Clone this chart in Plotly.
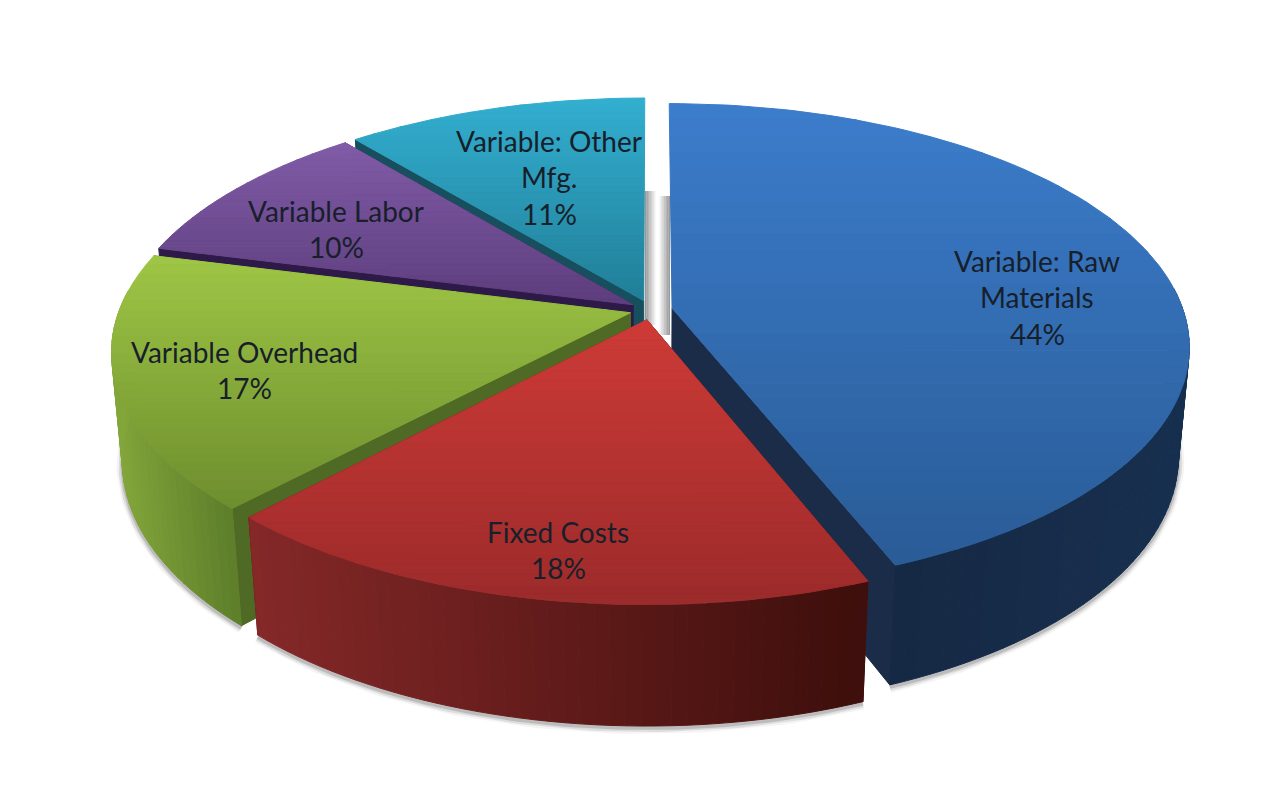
import numpy as np
import plotly.graph_objects as go

# datos del pie
categorias = ['Variable: Raw Materials', 'Fixed Costs', 'Variable Overhead', 'Variable Labor', 'Variable: Other Mfg.']
valores = [44, 18, 17, 10, 11]

# lineas de texto de cada etiqueta (sin el porcentaje)
lineas = [['Variable: Raw', 'Materials'], ['Fixed Costs'], ['Variable Overhead'], ['Variable Labor'], ['Variable: Other', 'Mfg.']]

# colores: arriba y abajo de la cara, izquierda y derecha de la pared, pared radial
cara_arriba = ['#3C7DCC', '#CE3B37', '#9FC746', '#815CA8', '#33AFD0']
cara_abajo = ['#2A5C97', '#9C2B2B', '#6E8E2E', '#5E3E7E', '#217F99']
pared_izq = ['#14233C', '#862929', '#84A73B', '#4A3068', '#1F6E85']
pared_der = ['#18304F', '#3E0F0C', '#5F7F2B', '#4A3068', '#1F6E85']
pared_radial = ['#1A2C48', '#5A1A1A', '#4F6A25', '#2E1A48', '#174F5E']

# camara: el pie se proyecta a pixeles de la imagen
cx, cy = 651, 310
sx_esc, sy_esc = 511, 237
k = 0.156
m = 0.02
altura = 110
pull = 0.042
orden = [4, 3, 2, 0, 1]  # de atras hacia adelante
centro_etiquetas = [(1037, 297), (558, 550), (244, 370), (336, 229), (549, 177)]
salto = 36.5


def proyectar(x, y, z):
    w = 1 + k * y - m * z
    return cx + sx_esc * x / w, cy - sy_esc * y / w - altura * z / w


def mezcla(c1, c2, t):
    a = np.array([int(c1[i:i + 2], 16) for i in (1, 3, 5)])
    b = np.array([int(c2[i:i + 2], 16) for i in (1, 3, 5)])
    r = a + (b - a) * min(max(t, 0), 1)
    return 'rgb(%d,%d,%d)' % tuple(r)


def recortar(pol, y0, y1):
    # recorta el poligono a una banda horizontal
    for lim, signo in ((y0, 1), (y1, -1)):
        nuevo = []
        for i in range(len(pol)):
            a, b = pol[i], pol[(i + 1) % len(pol)]
            da, db = signo * (a[1] - lim), signo * (b[1] - lim)
            if da >= 0:
                nuevo.append(a)
            if da * db < 0:
                t = da / (da - db)
                nuevo.append((a[0] + (b[0] - a[0]) * t, a[1] + (b[1] - a[1]) * t))
        pol = nuevo
        if not pol:
            break
    return pol


def relleno(fig, pol, color):
    xs = [p[0] for p in pol] + [pol[0][0]]
    ys = [p[1] for p in pol] + [pol[0][1]]
    fig.add_trace(go.Scatter(x=xs, y=ys, mode='lines', fill='toself', fillcolor=color,
                             line=dict(color=color, width=1), hoverinfo='skip', showlegend=False))


fig = go.Figure()

fracciones = np.array(valores) / sum(valores) * 2 * np.pi
fin = np.cumsum(fracciones)
inicio = fin - fracciones

# sombra suave bajo las paredes
for i in (2, 1, 0):
    ang = np.linspace(inicio[i], fin[i], 80)
    ang = ang[np.cos(ang) < 0.1]
    bis = (inicio[i] + fin[i]) / 2
    ox, oy = pull * np.sin(bis), pull * np.cos(bis)
    pts = [proyectar(ox + np.sin(a), oy + np.cos(a), -1) for a in ang]
    for ancho, alfa in ((12, 0.06), (8, 0.12), (4, 0.2)):
        fig.add_trace(go.Scatter(x=[p[0] for p in pts], y=[p[1] + 2 for p in pts], mode='lines',
                                 line=dict(color='rgba(60,60,60,%g)' % alfa, width=ancho),
                                 hoverinfo='skip', showlegend=False))

for i in orden:
    bis = (inicio[i] + fin[i]) / 2
    ox, oy = pull * np.sin(bis), pull * np.cos(bis)
    ang = np.linspace(inicio[i], fin[i], int(np.degrees(fracciones[i]) / 1.5) + 2)

    # paredes radiales, sin las que quedan de canto en la separacion de arriba
    for a in (inicio[i], fin[i]):
        if abs(np.sin(a)) < 0.01:
            continue
        pol = [proyectar(ox, oy, 0), proyectar(ox + np.sin(a), oy + np.cos(a), 0),
               proyectar(ox + np.sin(a), oy + np.cos(a), -1), proyectar(ox, oy, -1)]
        relleno(fig, pol, pared_radial[i])

    # pared exterior por franjas: la parte de atras no se ve
    arriba = [proyectar(ox + np.sin(a), oy + np.cos(a), 0) for a in ang]
    abajo = [proyectar(ox + np.sin(a), oy + np.cos(a), -1) for a in ang]
    xmin, xmax = min(p[0] for p in arriba), max(p[0] for p in arriba)
    for j in range(len(ang) - 1):
        if np.cos(ang[j]) > 0.1 or np.cos(ang[j + 1]) > 0.1:
            continue
        t = (arriba[j][0] - xmin) / (xmax - xmin)
        relleno(fig, [arriba[j], arriba[j + 1], abajo[j + 1], abajo[j]], mezcla(pared_izq[i], pared_der[i], t))

    # cara superior con degradado vertical
    cara = [proyectar(ox, oy, 0)] + arriba
    ymin, ymax = min(p[1] for p in cara), max(p[1] for p in cara)
    bandas = 28
    for j in range(bandas):
        y0 = ymin + (ymax - ymin) * j / bandas
        y1 = ymin + (ymax - ymin) * (j + 1) / bandas
        pol = recortar(cara, y0, y1)
        if len(pol) > 2:
            relleno(fig, pol, mezcla(cara_arriba[i], cara_abajo[i], (j + 0.5) / bandas))

# etiquetas, una anotacion por linea
for i in range(len(categorias)):
    textos = lineas[i] + ['%d%%' % valores[i]]
    ex, ey = centro_etiquetas[i]
    for j, t in enumerate(textos):
        fig.add_annotation(x=ex, y=ey + (j - (len(textos) - 1) / 2) * salto, text=t, xref='x', yref='y',
                           showarrow=False, font=dict(family='Lato', size=28, color='#17202a'))

# sombra gris en la separacion entre azul y cian
for n in range(7):
    gris = 'rgba(110,110,110,%g)' % (0.7 - n * 0.1)
    fig.add_shape(type='rect', x0=645 + n * 1.5, x1=646.5 + n * 1.5, y0=191, y1=325, fillcolor=gris, line_width=0, layer='below')
    fig.add_shape(type='rect', x0=668.5 - n * 1.5, x1=670 - n * 1.5, y0=196, y1=335, fillcolor=gris, line_width=0, layer='below')

# la pagina deja 8 px de margen: los rangos empiezan en 8 para que un dato sea un pixel de la imagen
fig.update_layout(
    width=1264, height=780,
    margin=dict(l=0, r=0, t=0, b=0),
    paper_bgcolor='white', plot_bgcolor='white',
    xaxis=dict(range=[8, 1272], visible=False),
    yaxis=dict(range=[788, 8], visible=False),
    showlegend=False
)

fig.write_html("out.html")
